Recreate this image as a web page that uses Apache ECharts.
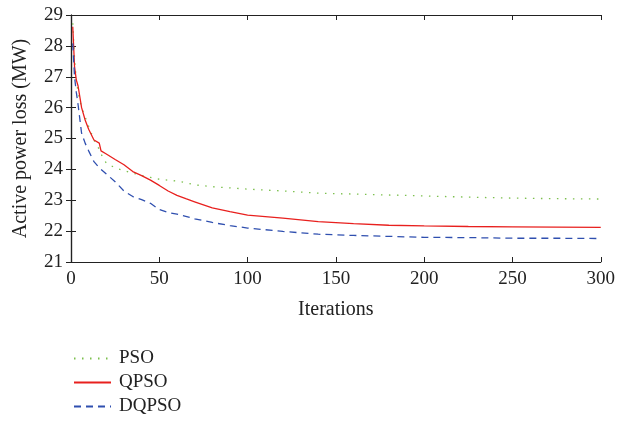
<!DOCTYPE html>
<html><head><meta charset="utf-8">
<script src="https://cdn.jsdelivr.net/npm/echarts@6/dist/echarts.min.js"></script>
<style>html,body{margin:0;padding:0;background:#fff}#c{width:618px;height:426px}</style>
</head><body><div id="c"></div>
<script>
const iterations = [1,2,3,4,6,8,10,13,16,17,20,25,30,35,40,45,50,55,60,65,70,80,90,100,120,140,160,180,200,225,250,275,300];
const psoLoss = [28.73,27.6,26.9,26.5,26.0,25.7,25.4,24.95,24.65,24.5,24.2,24.05,23.96,23.88,23.8,23.74,23.68,23.65,23.62,23.57,23.5,23.44,23.4,23.36,23.3,23.23,23.2,23.17,23.14,23.1,23.07,23.05,23.04];
const qpsoLoss = [28.62,27.33,26.9,26.7,26.0,25.6,25.3,24.95,24.85,24.6,24.5,24.32,24.15,23.93,23.8,23.65,23.48,23.3,23.16,23.05,22.95,22.75,22.63,22.52,22.42,22.31,22.24,22.19,22.17,22.15,22.14,22.13,22.12];
const dqpsoLoss = [28.08,27.0,26.5,26.1,25.17,24.85,24.6,24.25,24.05,24.0,23.85,23.6,23.3,23.12,23.02,22.9,22.7,22.6,22.55,22.48,22.4,22.28,22.18,22.1,21.99,21.9,21.86,21.83,21.8,21.79,21.77,21.77,21.76];
const seriesNames = ['PSO','QPSO','DQPSO'];

const pair = arr => iterations.map((x,i)=>[x,arr[i]]);
const font = "'Liberation Serif', 'DejaVu Serif', serif";
const chart = echarts.init(document.getElementById('c'));
const axisCommon = {
  axisLine:{show:true,lineStyle:{color:'#222',width:1.2}},
  axisTick:{show:true,inside:true,length:5,lineStyle:{color:'#222'}},
  splitLine:{show:false}
};
chart.setOption({
  animation:false,
  textStyle:{fontFamily:font},
  grid:{left:71,right:17,top:15,bottom:164},
  legend:{
    orient:'vertical',left:68,top:344,height:78,itemWidth:37,itemHeight:14,itemGap:5,
    itemStyle:{opacity:0},
    textStyle:{fontFamily:font,fontSize:19,lineHeight:18,color:'#222',padding:[0,0,0,3]},
    data:seriesNames
  },
  xAxis:[
    Object.assign({type:'value',min:0,max:300,interval:50,position:'bottom',
      name:'Iterations',nameLocation:'middle',nameGap:38,
      nameTextStyle:{fontFamily:font,fontSize:20,color:'#222'},
      axisLabel:{fontFamily:font,fontSize:19,color:'#222',margin:8}},axisCommon),
    Object.assign({type:'value',min:0,max:300,interval:50,position:'top',
      axisLabel:{show:false}},axisCommon)
  ],
  yAxis:[
    Object.assign({type:'value',min:21,max:29,interval:1,position:'left',
      name:'Active power loss (MW)',nameLocation:'middle',nameGap:40,
      nameTextStyle:{fontFamily:font,fontSize:20,color:'#222'},
      axisLabel:{fontFamily:font,fontSize:19,color:'#222',margin:8}},axisCommon),
    Object.assign({type:'value',min:21,max:29,interval:1,position:'right',
      axisLabel:{show:false}},axisCommon)
  ],
  series:[
    {name:'PSO',type:'line',symbol:'none',data:pair(psoLoss),
      lineStyle:{color:'#7cc04e',width:1.3,type:[1.5,6.5]},itemStyle:{color:'#7cc04e'}},
    {name:'QPSO',type:'line',symbol:'none',data:pair(qpsoLoss),
      lineStyle:{color:'#e8201e',width:1.3,type:'solid'},itemStyle:{color:'#e8201e'}},
    {name:'DQPSO',type:'line',symbol:'none',data:pair(dqpsoLoss),
      lineStyle:{color:'#2f4faf',width:1.3,type:[7,5]},itemStyle:{color:'#2f4faf'}}
  ]
});
</script></body></html>
